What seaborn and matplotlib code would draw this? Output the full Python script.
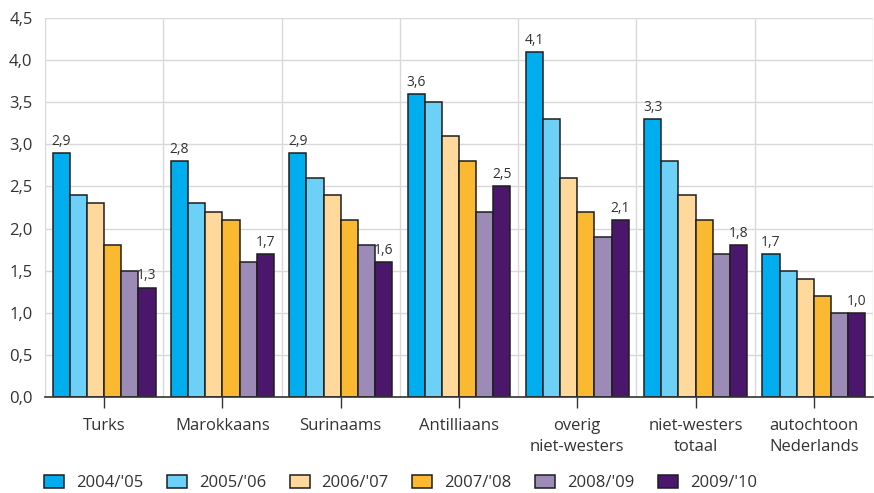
import matplotlib
matplotlib.use("Agg")
import matplotlib.pyplot as plt
import seaborn as sns
import pandas as pd
import numpy as np
from matplotlib.patches import Patch

categories = ["Turks", "Marokkaans", "Surinaams", "Antilliaans",
              "overig\nniet-westers", "niet-westers\ntotaal", "autochtoon\nNederlands"]
years = ["2004/'05", "2005/'06", "2006/'07", "2007/'08", "2008/'09", "2009/'10"]
v2004 = [2.9, 2.8, 2.9, 3.6, 4.1, 3.3, 1.7]
v2005 = [2.4, 2.3, 2.6, 3.5, 3.3, 2.8, 1.5]
v2006 = [2.3, 2.2, 2.4, 3.1, 2.6, 2.4, 1.4]
v2007 = [1.8, 2.1, 2.1, 2.8, 2.2, 2.1, 1.2]
v2008 = [1.5, 1.6, 1.8, 2.2, 1.9, 1.7, 1.0]
v2009 = [1.3, 1.7, 1.6, 2.5, 2.1, 1.8, 1.0]
series = [v2004, v2005, v2006, v2007, v2008, v2009]
colors = ["#00AEEF", "#6DD0F6", "#FED99B", "#FBB931", "#9C8AB7", "#4A176C"]

rows = []
for y, vals in zip(years, series):
    for c, v in zip(categories, vals):
        rows.append({"cat": c, "year": y, "val": v})
df = pd.DataFrame(rows)

sns.set_theme(style="white")
plt.rcParams["font.family"] = ["Open Sans", "DejaVu Sans"]
fig = plt.figure(figsize=(8.74, 4.93), dpi=100)
ax = fig.add_axes([45/874, 1-397/493, 828/874, 379/493])

sns.barplot(data=df, x="cat", y="val", hue="year", palette=colors,
            order=categories, hue_order=years, width=0.87, ax=ax,
            edgecolor="#1e1e1e", linewidth=1.1, legend=False, saturation=1)

ax.set_ylim(0, 4.5)
ax.set_xlim(-0.5, len(categories) - 0.5)
ax.set_yticks(np.arange(0, 4.51, 0.5))
ax.set_yticklabels([f"{t:.1f}".replace(".", ",") for t in np.arange(0, 4.51, 0.5)],
                   fontsize=12, color="#333333")
ax.set_xlabel("")
ax.set_ylabel("")
ax.tick_params(axis="x", labelsize=12, colors="#333333", length=8, width=1,
               direction="out", bottom=True, pad=7)
ax.tick_params(axis="y", length=0, pad=9)
for lab in ax.get_xticklabels():
    lab.set_color("#333333")
    lab.set_linespacing(1.45)

for yv in np.arange(0.5, 4.51, 0.5):
    ax.axhline(yv, color="#d9d9d9", lw=1, zorder=0)
for xb in np.arange(-0.5, len(categories) - 0.4, 1):
    ax.axvline(xb, color="#d9d9d9", lw=1, zorder=0)
ax.set_axisbelow(True)
for s in ["top", "right", "left"]:
    ax.spines[s].set_visible(False)
ax.spines["bottom"].set_color("#333333")
ax.spines["bottom"].set_linewidth(1.2)

# data labels on first and last bars of each group
conts = ax.containers
for idx in [0, len(conts) - 1]:
    c = conts[idx]
    ax.bar_label(c, labels=[f"{v:.1f}".replace(".", ",") for v in series[idx]],
                 padding=3, fontsize=10, color="#333333")

handles = [Patch(facecolor=col, edgecolor="#1e1e1e", linewidth=1.1) for col in colors]
fig.legend(handles, years, loc="center left", bbox_to_anchor=(29/874, 1-483/493),
           ncol=6, frameon=False, fontsize=12, handlelength=1.2, handleheight=0.78,
           columnspacing=1.41, handletextpad=0.72, labelcolor="#333333")

fig.savefig("out.png", dpi=100)
